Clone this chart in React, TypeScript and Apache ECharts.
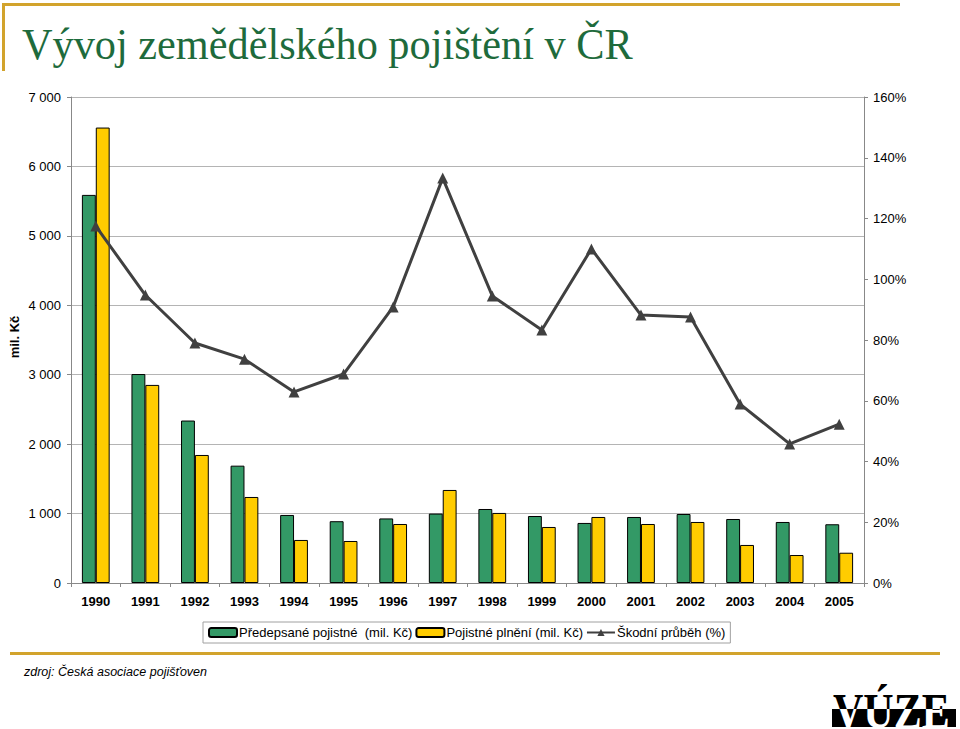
import React, { useEffect, useRef } from "react";
import * as echarts from "echarts";

const years = ["1990","1991","1992","1993","1994","1995","1996","1997","1998","1999","2000","2001","2002","2003","2004","2005"];
const predepsane = [5590, 3010, 2340, 1690, 980, 890, 930, 1000, 1066, 965, 865, 951, 994, 922, 879, 846];
const plneni = [6560, 2853, 1844, 1239, 620, 605, 850, 1340, 1009, 807, 951, 850, 879, 548, 403, 436];
const skodni = [117.5, 94.8, 79, 73.7, 62.9, 68.8, 90.9, 133.3, 94.5, 83.3, 110, 88.2, 87.6, 58.9, 45.8, 52.3];

const seriesNames = ["Předepsané pojistné  (mil. Kč)", "Pojistné plnění (mil. Kč)", "Škodní průběh (%)"];
const titleText = "Vývoj zemědělského pojištění v ČR";
const sourceText = "zdroj: Česká asociace pojišťoven";
const logoText = "VÚZE";

const fmtThousands = (v: number) => String(v).replace(/\B(?=(\d{3})+(?!\d))/g, " ");

export default function App() {
  const ref = useRef<HTMLDivElement>(null);
  useEffect(() => {
    if (!ref.current) return;
    const chart = echarts.init(ref.current, undefined, { renderer: "svg" });
    const gold = "#d2a32c";
    const font = "Liberation Sans, Arial, sans-serif";
    const logoFont = "bold 50px 'Liberation Serif', 'Times New Roman', serif";
    const logoX = 833;
    const logoY = 686.5;
    const bandTop = 709;
    const split = bandTop - logoY;
    chart.setOption({
      animation: false,
      backgroundColor: "#ffffff",
      textStyle: { fontFamily: font },
      grid: { left: 71, right: 96, top: 97, bottom: 146, containLabel: false },
      legend: {
        left: 203,
        top: 622,
        data: seriesNames,
        borderColor: "#a0a0a0",
        borderWidth: 1,
        padding: [4, 5, 4, 5],
        itemGap: 3,
        itemWidth: 28,
        itemHeight: 9,
        textStyle: { fontSize: 13, color: "#000", fontFamily: font, padding: [0, 0, 0, -3] },
      },
      xAxis: {
        type: "category",
        data: years,
        axisLine: { lineStyle: { color: "#888888", width: 1 } },
        axisTick: { show: true, alignWithLabel: false, length: 4, lineStyle: { color: "#888888" } },
        axisLabel: { fontSize: 13, fontWeight: "bold", color: "#000", margin: 12, fontFamily: font },
      },
      yAxis: [
        {
          type: "value",
          min: 0,
          max: 7000,
          interval: 1000,
          axisLine: { show: true, lineStyle: { color: "#888888" } },
          axisTick: { show: true, length: 4, lineStyle: { color: "#888888" } },
          axisLabel: { fontSize: 13, color: "#000", margin: 10, formatter: (v: number) => fmtThousands(v), fontFamily: font },
          splitLine: { show: true, lineStyle: { color: "#b4b4b4", width: 1 } },
        },
        {
          type: "value",
          min: 0,
          max: 160,
          interval: 20,
          position: "right",
          axisLine: { show: true, lineStyle: { color: "#888888" } },
          axisTick: { show: true, length: 4, lineStyle: { color: "#888888" } },
          axisLabel: { fontSize: 13, color: "#000", margin: 9, formatter: "{value}%", fontFamily: font },
          splitLine: { show: false },
        },
      ],
      series: [
        {
          name: seriesNames[0],
          type: "bar",
          data: predepsane,
          barWidth: "28%",
          barGap: "0%",
          itemStyle: { color: "#339966", borderColor: "#000", borderWidth: 1 },
        },
        {
          name: seriesNames[1],
          type: "bar",
          data: plneni,
          barWidth: "28%",
          barGap: "0%",
          itemStyle: { color: "#ffcc00", borderColor: "#000", borderWidth: 1 },
        },
        {
          name: seriesNames[2],
          type: "line",
          yAxisIndex: 1,
          data: skodni,
          symbol: "triangle",
          symbolSize: 11,
          lineStyle: { color: "#404040", width: 3 },
          itemStyle: { color: "#404040" },
        },
        {
          type: "custom",
          coordinateSystem: "none",
          silent: true,
          data: [0],
          renderItem: () => ({
            type: "group",
            children: [
              { type: "rect", shape: { x: 832, y: bandTop, width: 124, height: 18 }, style: { fill: "#000" } },
              {
                type: "text",
                x: logoX,
                y: logoY,
                scaleX: 0.84,
                style: { text: logoText, font: logoFont, fill: "#000", verticalAlign: "top" },
                clipPath: { type: "rect", shape: { x: -20, y: -20, width: 220, height: split + 20 } },
              },
              {
                type: "text",
                x: logoX,
                y: logoY,
                scaleX: 0.84,
                style: { text: logoText, font: logoFont, fill: "#fff", verticalAlign: "top" },
                clipPath: { type: "rect", shape: { x: -20, y: split, width: 220, height: 40.5 - split } },
              },
            ],
          }),
        },
      ],
      graphic: [
        { type: "rect", shape: { x: 2, y: 3, width: 898, height: 3 }, style: { fill: gold } },
        { type: "rect", shape: { x: 2, y: 3, width: 3, height: 68 }, style: { fill: gold } },
        { type: "rect", shape: { x: 10, y: 652, width: 930, height: 3 }, style: { fill: gold } },
        {
          type: "text",
          x: 22,
          y: 21,
          scaleX: 0.94,
          style: { text: titleText, fill: "#1e6b3c", font: "45px 'Liberation Serif', 'Times New Roman', serif", verticalAlign: "top" },
        },
        {
          type: "text",
          x: 14,
          y: 337,
          rotation: Math.PI / 2,
          style: { text: "mil. Kč", fill: "#000", font: `bold 13px ${font}`, align: "center", verticalAlign: "middle" },
        },
        {
          type: "text",
          x: 24,
          y: 665,
          style: { text: sourceText, fill: "#000", font: `italic 12.5px ${font}`, verticalAlign: "top" },
        },
      ],
    });
    return () => chart.dispose();
  }, []);
  return <div ref={ref} style={{ position: "fixed", left: 0, top: 0, width: 960, height: 729 }} />;
}
